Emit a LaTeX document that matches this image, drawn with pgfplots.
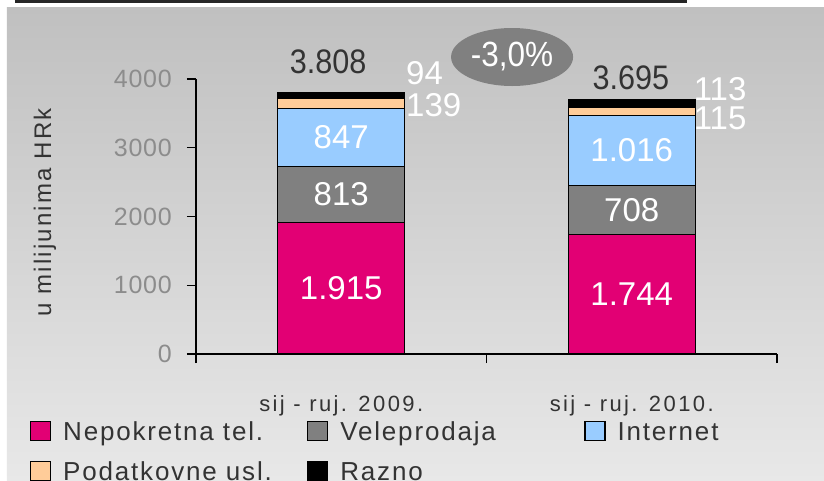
\documentclass[border=0pt]{standalone}
\usepackage{fontspec}
\setmainfont{Liberation Sans}
\newfontfamily\lsTick{Liberation Sans}[LetterSpace=11]
\newfontfamily\lsLeg{Liberation Sans}[LetterSpace=7]
\newfontfamily\lsYl{Liberation Sans}[LetterSpace=9]
\newfontfamily\lsY{Liberation Sans}[LetterSpace=3]
\newfontfamily\lsTot{Liberation Sans}[FakeStretch=0.9]
\usepackage{pgfplots}
\pgfplotsset{compat=1.18}
\definecolor{magentaT}{HTML}{E20074}
\definecolor{veleGray}{HTML}{808080}
\definecolor{netBlue}{HTML}{99CCFF}
\definecolor{podOrange}{HTML}{FFCC99}
\definecolor{bgTop}{HTML}{C0C0C0}
\definecolor{bgBot}{HTML}{E8E8E8}
\definecolor{tickGray}{HTML}{8C8C8C}
\definecolor{darkTxt}{HTML}{333333}
\definecolor{ellGray}{HTML}{808080}
\newcommand{\lb}[1]{\makebox[244bp][l]{#1}}
\tikzset{inlab/.style={font=\fontsize{33bp}{40bp}\selectfont, text=white, inner sep=0pt},
  totlab/.style={font=\lsTot\fontsize{34bp}{40bp}\selectfont, text=darkTxt, inner sep=0pt}}
\begin{document}
\begin{tikzpicture}
\useasboundingbox (-196bp,-127bp) rectangle (628bp,354bp);
\fill[white] (-196bp,-127bp) rectangle (628bp,354bp);
\shade[top color=bgTop, bottom color=bgBot] (-189bp,-127bp) rectangle (628bp,346bp);
\draw[line width=2.5bp, color=black!85] (-181bp,352.7bp) -- (491bp,352.7bp);
\begin{axis}[
  at={(0,0)}, anchor=south west, scale only axis,
  width=581bp, height=275bp,
  xmin=-0.5, xmax=1.5, ymin=0, ymax=4000,
  ybar stacked, bar width=127bp,
  axis x line*=bottom, axis y line*=left,
  axis line style={-, line width=1.2bp, black},
  clip=false,
  ytick={0,1000,2000,3000,4000},
  xtick={-0.5,0.5,1.5}, xticklabels={},
  extra x ticks={0,1},
  extra x tick labels={sij - ruj. 2009., sij - ruj. 2010.},
  extra x tick style={major tick length=0pt},
  tick align=outside, major tick length=9bp,
  tick style={line width=1.2bp, black},
  scaled y ticks=false,
  /pgf/number format/1000 sep={},
  /pgf/number format/assume math mode=true,
  yticklabel style={font=\lsY\fontsize{25bp}{30bp}\selectfont, text=tickGray, anchor=east, xshift=-15bp, inner sep=0pt},
  xticklabel style={font=\lsTick\fontsize{22bp}{26bp}\selectfont, text=darkTxt, anchor=base, yshift=-57.9bp, inner sep=0pt},
  ylabel={u milijunima HRk},
  ylabel style={at={(axis description cs:-0.26,0.515)}, anchor=center, font=\lsYl\fontsize{24bp}{28bp}\selectfont, text=darkTxt},
  legend columns=3,
  legend style={draw=none, fill=none, at={(axis description cs:-0.2857,-0.2436)}, anchor=north west,
    inner sep=0pt, outer sep=0pt, column sep=0pt, row sep=18bp,
    nodes={inner sep=0pt, text height=19bp, text depth=2bp,
      font=\lsLeg\fontsize{26bp}{30bp}\selectfont, text=darkTxt}},
  legend image code/.code={\draw[#1, line width=1.2bp] (0bp,-8.5bp) rectangle (20bp,10.5bp); \path (32bp,0bp);},
]
\addplot[fill=magentaT, draw=black, line width=1.2bp] coordinates {(0,1915) (1,1744)};
\addplot[fill=veleGray, draw=black, line width=1.2bp] coordinates {(0,813) (1,708)};
\addplot[fill=netBlue, draw=black, line width=1.2bp] coordinates {(0,847) (1,1016)};
\addplot[fill=podOrange, draw=black, line width=1.2bp] coordinates {(0,139) (1,115)};
\addplot[fill=black, draw=black, line width=1.2bp] coordinates {(0,94) (1,113)};
\legend{\lb{Nepokretna tel.}, \lb{Veleprodaja}, \lb{Internet}, \lb{Podatkovne usl.}, \lb{Razno}}
\coordinate (a1) at (axis cs:0,957.5);
\coordinate (a2) at (axis cs:0,2321.5);
\coordinate (a3) at (axis cs:0,3151.5);
\coordinate (b1) at (axis cs:1,872);
\coordinate (b2) at (axis cs:1,2098);
\coordinate (b3) at (axis cs:1,2960);
\coordinate (a4) at (axis cs:0.223,3622);
\coordinate (a5) at (axis cs:0.223,4087);
\coordinate (b4) at (axis cs:1.213,3433);
\coordinate (b5) at (axis cs:1.213,3855);
\coordinate (ta) at (axis cs:-0.045,4247);
\coordinate (tb) at (axis cs:0.997,4015);
\coordinate (el) at (axis cs:0.588,4320);
\coordinate (elt) at (axis cs:0.588,4330);
\end{axis}
\node[inlab] at (a1) {1.915};
\node[inlab] at (a2) {813};
\node[inlab] at (a3) {847};
\node[inlab] at (b1) {1.744};
\node[inlab] at (b2) {708};
\node[inlab] at (b3) {1.016};
\node[inlab, anchor=west] at (a5) {94};
\node[inlab, anchor=west] at (a4) {139};
\node[inlab, anchor=west] at (b5) {113};
\node[inlab, anchor=west] at (b4) {115};
\node[totlab] at (ta) {3.808};
\node[totlab] at (tb) {3.695};
\fill[ellGray] (el) ellipse (61bp and 29bp);
\node[inlab, font=\lsTot\fontsize{35bp}{40bp}\selectfont] at (elt) {-3,0\%};
\end{tikzpicture}
\end{document}
